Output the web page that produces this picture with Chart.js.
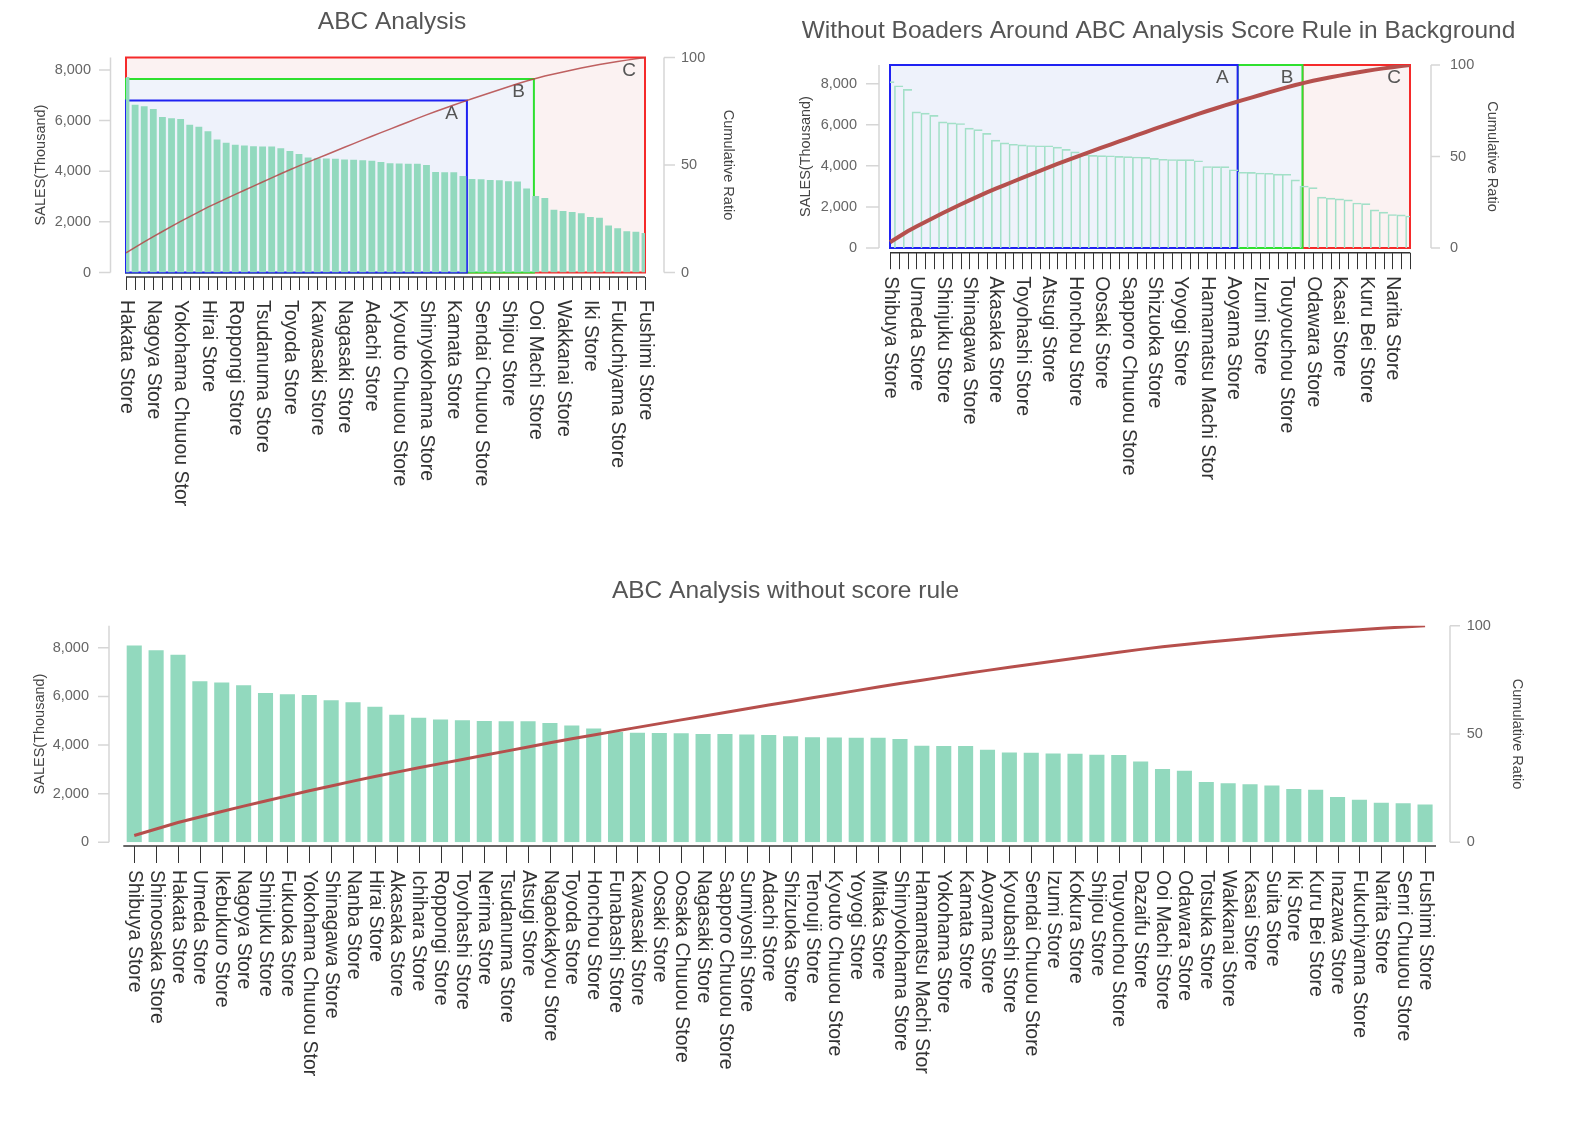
<!DOCTYPE html>
<html lang="en">
<head>
<meta charset="UTF-8">
<title>ABC Analysis</title>
<script src="https://cdn.jsdelivr.net/npm/chart.js@4"></script>
<style>
  body { margin: 0; background: #fff; }
  canvas { position: absolute; }
  #abcChart { left: 0; top: 0; }
  #bgChart { left: 784px; top: 0; }
  #plainChart { left: 0; top: 560px; }
</style>
</head>
<body>
<canvas id="abcChart" width="784" height="530"></canvas>
<canvas id="bgChart" width="749" height="530"></canvas>
<canvas id="plainChart" width="1571" height="564"></canvas>
<script>
const stores = ['Shibuya Store', 'Shinoosaka Store', 'Hakata Store', 'Umeda Store', 'Ikebukuro Store',
  'Nagoya Store', 'Shinjuku Store', 'Fukuoka Store', 'Yokohama Chuuou Store', 'Shinagawa Store',
  'Nanba Store', 'Hirai Store', 'Akasaka Store', 'Ichihara Store', 'Roppongi Store',
  'Toyohashi Store', 'Nerima Store', 'Tsudanuma Store', 'Atsugi Store', 'Nagaokakyou Store',
  'Toyoda Store', 'Honchou Store', 'Funabashi Store', 'Kawasaki Store', 'Oosaki Store',
  'Oosaka Chuuou Store', 'Nagasaki Store', 'Sapporo Chuuou Store', 'Sumiyoshi Store', 'Adachi Store',
  'Shizuoka Store', 'Tenouji Store', 'Kyouto Chuuou Store', 'Yoyogi Store', 'Mitaka Store',
  'Shinyokohama Store', 'Hamamatsu Machi Store', 'Yokohama Store', 'Kamata Store', 'Aoyama Store',
  'Kyoubashi Store', 'Sendai Chuuou Store', 'Izumi Store', 'Kokura Store', 'Shijou Store',
  'Touyouchou Store', 'Dazaifu Store', 'Ooi Machi Store', 'Odawara Store', 'Totsuka Store',
  'Wakkanai Store', 'Kasai Store', 'Suita Store', 'Iki Store', 'Kuru Bei Store',
  'Inazawa Store', 'Fukuchiyama Store', 'Narita Store', 'Senri Chuuou Store', 'Fushimi Store'];

const sales = [8100, 7900, 7720, 6630, 6570, 6460, 6140, 6090, 6060, 5840,
  5760, 5580, 5250, 5120, 5050, 5020, 4990, 4980, 4980, 4910,
  4800, 4680, 4540, 4510, 4500, 4490, 4460, 4450, 4430, 4410,
  4360, 4320, 4310, 4300, 4300, 4250, 3970, 3960, 3960, 3810,
  3690, 3680, 3650, 3640, 3600, 3590, 3320, 3020, 2940, 2480,
  2430, 2390, 2340, 2190, 2160, 1860, 1750, 1630, 1610, 1560];

const salesTicks = [0, 2000, 4000, 6000, 8000];
const ratioTicks = [0, 50, 100];
const abcLevels = [80, 90, 100];
const abcNames = ['A', 'B', 'C'];
const abcColors = ['#1f22f2', '#2fe02f', '#f52a2a'];
const abcFills = ['#eef2fb', '#f0f3fb', '#fbf2f2'];

const FONT = '"Liberation Sans", Arial, sans-serif';
const total = sales.reduce((a, b) => a + b, 0);
let run = 0;
const cumRatio = sales.map(v => (run += v) / total * 100);

const shortName = s => s.length > 20 ? s.slice(0, 20) : s;

// fractional index where the cumulative line crosses a level
function crossAt(ratio, level) {
  for (let i = 1; i < ratio.length; i++) {
    if (ratio[i] >= level && ratio[i - 1] < level)
      return i - 1 + (level - ratio[i - 1]) / (ratio[i] - ratio[i - 1]);
  }
  return ratio.length - 1;
}
function pxAt(x, f) {
  const i = Math.floor(f), p0 = x.getPixelForValue(i);
  if (f === i) return p0;
  return p0 + (f - i) * (x.getPixelForValue(i + 1) - p0);
}

function drawAbc(chart, o, ratio) {
  if (!o.abc) return;
  const {ctx, chartArea: a, scales: {x, y1}} = chart;
  const xs = [pxAt(x, crossAt(ratio, abcLevels[0])), pxAt(x, crossAt(ratio, abcLevels[1])), a.right];
  const bottom = y1.getPixelForValue(0);
  ctx.save();
  ctx.lineWidth = 2;
  for (let k = 2; k >= 0; k--) {
    let left, top;
    if (o.abc === 'nested') { left = a.left; top = y1.getPixelForValue(abcLevels[k]); }
    else { left = k === 0 ? a.left : xs[k - 1]; top = y1.getPixelForValue(100); }
    ctx.fillStyle = abcFills[k];
    ctx.fillRect(left, top, xs[k] - left, bottom - top);
    ctx.strokeStyle = abcColors[k];
    ctx.strokeRect(left, top, xs[k] - left, bottom - top);
    ctx.fillStyle = '#555';
    ctx.font = '19px ' + FONT;
    ctx.textAlign = 'right';
    ctx.textBaseline = 'middle';
    ctx.fillText(abcNames[k], xs[k] - 9, top + 13);
  }
  ctx.restore();
}

function drawAxes(chart, o) {
  const {ctx, chartArea: a, scales: {x, y, y1}} = chart;
  ctx.save();
  ctx.strokeStyle = '#d6d6d6';
  ctx.lineWidth = 1.5;
  const lx = a.left - o.gapL, rx = a.right + o.gapR;
  ctx.beginPath();
  ctx.moveTo(lx, a.top); ctx.lineTo(lx, a.bottom);
  y.ticks.forEach(t => { const p = y.getPixelForValue(t.value); ctx.moveTo(lx - o.tickL, p); ctx.lineTo(lx, p); });
  ctx.moveTo(rx, a.top); ctx.lineTo(rx, a.bottom);
  y1.ticks.forEach(t => { const p = y1.getPixelForValue(t.value); ctx.moveTo(rx, p); ctx.lineTo(rx + o.tickR, p); });
  ctx.stroke();

  const by = a.bottom + o.gapX;
  ctx.strokeStyle = '#333';
  ctx.lineWidth = 1.5;
  ctx.beginPath(); ctx.moveTo(a.left, by); ctx.lineTo(a.right, by); ctx.stroke();
  ctx.lineWidth = 1;
  ctx.beginPath();
  x.ticks.forEach((t, i) => {
    const p = Math.round(x.getPixelForTick(i)) + 0.5;
    ctx.moveTo(p, by); ctx.lineTo(p, by + o.tickX);
  });
  ctx.stroke();

  ctx.fillStyle = '#333';
  ctx.font = '19.5px ' + FONT;
  ctx.textAlign = 'left';
  ctx.textBaseline = 'middle';
  x.ticks.forEach((t, i) => {
    if (i % o.every) return;
    ctx.save();
    ctx.translate(x.getPixelForTick(i), by + o.tickX + o.padX);
    ctx.rotate(Math.PI / 2);
    ctx.fillText(shortName(x.getLabelForValue(t.value)), 0, 0);
    ctx.restore();
  });
  ctx.restore();
}

function makeChart(id, o) {
  const labels = stores.slice(o.from);
  const values = sales.slice(o.from);
  const ratio = cumRatio.slice(o.from);
  const ymax = Math.max(...values) * 1.1;
  const tickFont = {size: 14.5, family: FONT};

  new Chart(document.getElementById(id), {
    type: 'bar',
    data: {
      labels: labels,
      datasets: [
        {type: 'line', data: ratio, yAxisID: 'y1', order: 0, borderColor: o.lineColor,
          borderWidth: o.lineWidth, pointRadius: 0, tension: 0, fill: false},
        Object.assign({data: values, yAxisID: 'y', order: 1}, o.bars)
      ]
    },
    options: {
      responsive: false,
      animation: false,
      layout: {padding: 0},
      plugins: {
        legend: {display: false},
        tooltip: {enabled: false},
        title: {display: true, text: o.title, color: '#555',
          font: {size: 24.5, family: FONT, weight: 'normal'},
          padding: {top: o.tPad[0], bottom: o.tPad[1]}}
      },
      scales: {
        x: {offset: o.offset, ticks: {display: false}, grid: {display: false}, border: {display: false},
          afterFit: s => { s.height = o.xH; }},
        y: {position: 'left', min: 0, max: ymax,
          afterBuildTicks: s => { s.ticks = salesTicks.map(v => ({value: v})); },
          grid: {display: false, drawTicks: false}, border: {display: false},
          ticks: {padding: o.padL, color: '#666', font: tickFont},
          title: {display: true, text: 'SALES(Thousand)', color: '#444', font: tickFont,
            padding: {top: o.titleL, bottom: 0}},
          afterFit: s => { s.width = o.wL; }},
        y1: {position: 'right', min: 0, max: 100,
          afterBuildTicks: s => { s.ticks = ratioTicks.map(v => ({value: v})); },
          grid: {display: false, drawTicks: false}, border: {display: false},
          ticks: {padding: o.padR, color: '#666', font: tickFont},
          title: {display: true, text: 'Cumulative Ratio', color: '#444', font: tickFont,
            padding: {top: o.titleR, bottom: 0}},
          afterFit: s => { s.width = o.wR; }}
      }
    },
    plugins: [{
      id: 'abcDeco',
      beforeDatasetsDraw: chart => drawAbc(chart, o, ratio),
      afterDraw: chart => drawAxes(chart, o)
    }]
  });
}

makeChart('abcChart', {
  title: 'ABC Analysis', from: 2, abc: 'nested', offset: false, every: 3,
  bars: {backgroundColor: '#92d9be', barPercentage: 0.75, categoryPercentage: 1},
  lineColor: 'rgba(180,70,70,0.85)', lineWidth: 1.5,
  tPad: [7.3, 20.8], xH: 257.5, wL: 126, wR: 139,
  padL: 35, padR: 36, titleL: 32.3, titleR: 47.3,
  gapL: 15.5, tickL: 11.5, gapR: 19, tickR: 11, gapX: 4.5, tickX: 13, padX: 10
});

makeChart('bgChart', {
  title: 'Without Boaders Around ABC Analysis Score Rule in Background', from: 0, abc: 'side',
  offset: false, every: 3,
  bars: {backgroundColor: 'rgba(0,0,0,0)', borderColor: '#a3e0c8', borderSkipped: false,
    borderWidth: {left: 1, top: 1, right: 0, bottom: 0}, barPercentage: 1, categoryPercentage: 1},
  lineColor: '#b5504d', lineWidth: 4,
  tPad: [16.3, 19.3], xH: 282, wL: 106, wR: 123,
  padL: 33, padR: 40, titleL: 13.3, titleR: 32.3,
  gapL: 11, tickL: 13, gapR: 21, tickR: 9, gapX: 4.7, tickX: 16.5, padX: 7
});

makeChart('plainChart', {
  title: 'ABC Analysis without score rule', from: 0, abc: null, offset: true, every: 1,
  bars: {backgroundColor: '#92d9be', barPercentage: 0.69, categoryPercentage: 1},
  lineColor: '#b64f4c', lineWidth: 3,
  tPad: [16.3, 20], xH: 281.7, wL: 123.3, wR: 135,
  padL: 34.3, padR: 30.7, titleL: 31.3, titleR: 45.3,
  gapL: 14.3, tickL: 11, gapR: 14, tickR: 10, gapX: 3.7, tickX: 17, padX: 7
});
</script>
</body>
</html>
